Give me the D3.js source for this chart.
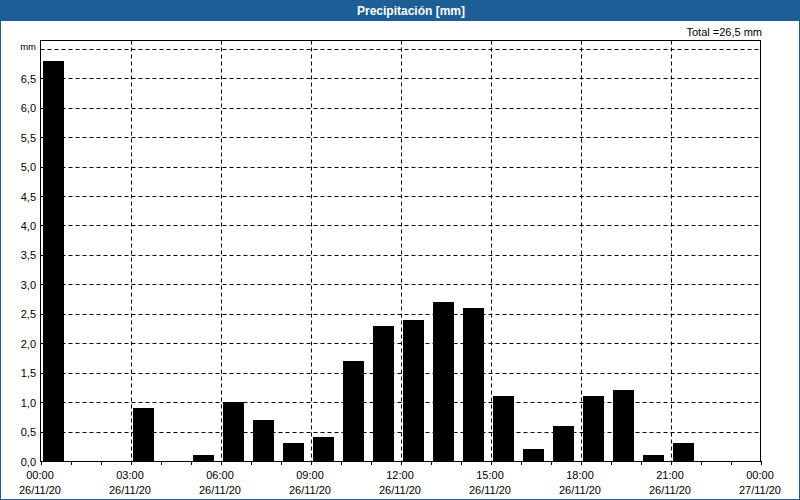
<!DOCTYPE html>
<html><head><meta charset="utf-8">
<script src="https://cdn.jsdelivr.net/npm/d3@7"></script>
<style>
html,body{margin:0;padding:0;background:#fff;}
svg{display:block;font-family:"Liberation Sans",Arial,sans-serif;}
</style></head><body>
<svg id="c" width="800" height="500"></svg>
<script>
const title = "Precipitación [mm]";
const totalLabel = "Total =26,5 mm";
const hours = d3.range(0, 24);
const precip = [6.8, 0, 0, 0.9, 0, 0.1, 1.0, 0.7, 0.3, 0.4, 1.7, 2.3, 2.4, 2.7, 2.6, 1.1, 0.2, 0.6, 1.1, 1.2, 0.1, 0.3, 0, 0];
const yTicks = [0, 0.5, 1, 1.5, 2, 2.5, 3, 3.5, 4, 4.5, 5, 5.5, 6, 6.5];
const yTopLabel = "mm";
const xTickHours = [0, 3, 6, 9, 12, 15, 18, 21, 24];
const xTimeLabels = ["00:00","03:00","06:00","09:00","12:00","15:00","18:00","21:00","00:00"];
const xDateLabels = ["26/11/20","26/11/20","26/11/20","26/11/20","26/11/20","26/11/20","26/11/20","26/11/20","27/11/20"];

const svg = d3.select("#c");
const L = 40.5, R = 760.5, T = 40.5, B = 461;
const x = d3.scaleLinear().domain([0, 24]).range([L, R]);
const y = d3.scaleLinear().domain([0, 7.2]).range([B, B - 7.2 * 58.88]);

// window frame & title bar
svg.append("rect").attr("x",0.5).attr("y",0.5).attr("width",799).attr("height",499).attr("fill","#fff").attr("stroke","#1d5e96").attr("stroke-width",1);
svg.append("rect").attr("x",0).attr("y",0).attr("width",800).attr("height",21).attr("fill","#1d5e96");
svg.append("text").attr("x",411).attr("y",15).attr("text-anchor","middle").attr("fill","#fff")
  .attr("font-size",12).attr("font-weight","bold").text(title);

// total
svg.append("text").attr("x",762).attr("y",36).attr("text-anchor","end").attr("font-size",11).attr("fill","#000").text(totalLabel);

// horizontal grid
const gridY = yTicks.filter(v => v > 0).concat([7]);
svg.append("g").selectAll("line").data(gridY).join("line")
  .attr("x1",L).attr("x2",R)
  .attr("y1",d => Math.round(y(d)) + 0.5).attr("y2",d => Math.round(y(d)) + 0.5)
  .attr("stroke","#000").attr("stroke-dasharray","4,3").attr("stroke-width",1);

// vertical grid
svg.append("g").selectAll("line").data(xTickHours.filter(h => h > 0 && h < 24)).join("line")
  .attr("x1",d => Math.round(x(d)) + 0.5).attr("x2",d => Math.round(x(d)) + 0.5)
  .attr("y1",T).attr("y2",B)
  .attr("stroke","#000").attr("stroke-dasharray","4,3").attr("stroke-width",1);

// bars
svg.append("g").selectAll("rect").data(hours.filter(h => precip[h] > 0)).join("rect")
  .attr("x",d => Math.round(x(d) + 2.5))
  .attr("width",21)
  .attr("y",d => Math.round(y(precip[d])))
  .attr("height",d => B - Math.round(y(precip[d])))
  .attr("fill","#000");

// frame
svg.append("rect").attr("x",L).attr("y",T).attr("width",R-L).attr("height",B-T+0.5)
  .attr("fill","none").attr("stroke","#000").attr("stroke-width",1);

// y labels
const yl = svg.append("g").attr("font-size",11).attr("fill","#000");
yl.selectAll("text").data(yTicks).join("text")
  .attr("x",36).attr("y",d => y(d) + 4.5).attr("text-anchor","end")
  .text(d => d3.format(".1f")(d).replace(".", ","));
yl.append("text").attr("x",36).attr("y",y(7) + 1.5).attr("text-anchor","end").attr("font-size",9.5).text(yTopLabel);

// x axis ticks each hour
svg.append("g").selectAll("line").data(d3.range(0, 25)).join("line")
  .attr("x1",d => Math.round(x(d)) + 0.5).attr("x2",d => Math.round(x(d)) + 0.5)
  .attr("y1",B).attr("y2",B + 4).attr("stroke","#000");

const xl = svg.append("g").attr("font-size",11).attr("fill","#000").attr("text-anchor","middle");
xl.selectAll("text.t").data(xTickHours).join("text").attr("class","t")
  .attr("x",d => x(d) - 0.5).attr("y",478.5).text((d,i) => xTimeLabels[i]);
xl.selectAll("text.d").data(xTickHours).join("text").attr("class","d")
  .attr("x",d => x(d) - 0.5).attr("y",493.5).text((d,i) => xDateLabels[i]);
</script>
</body></html>
